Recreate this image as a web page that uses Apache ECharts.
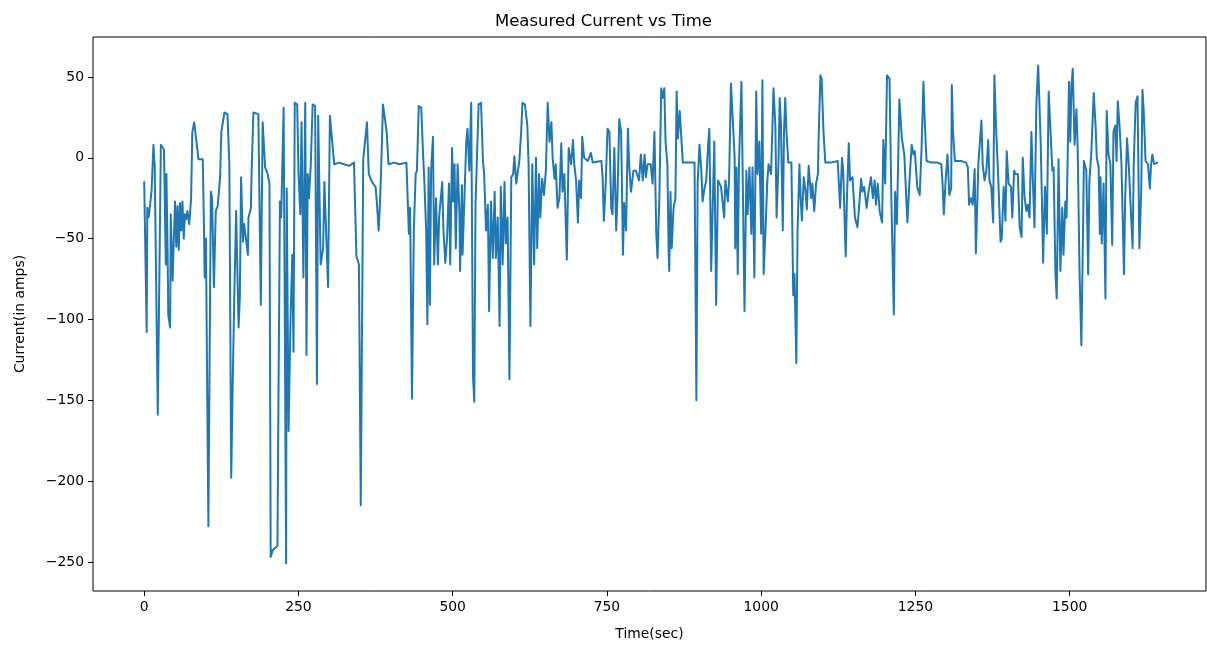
<!DOCTYPE html>
<html>
<head>
<meta charset="utf-8">
<title>Measured Current vs Time</title>
<script src="https://cdn.jsdelivr.net/npm/echarts@6/dist/echarts.min.js"></script>
<style>
  html, body { margin: 0; padding: 0; background: #fff; }
  #chart { width: 1207px; height: 646px; }
</style>
</head>
<body>
<div id="chart"></div>
<script>
// time axis (seconds) and the measured current (amps)
const timeSec = [
  0, 2, 4, 5, 7, 9, 12, 15, 17, 22,
  27, 30, 32, 35, 36, 38, 39, 42, 43, 46,
  48, 50, 52, 54, 56, 58, 60, 62, 64, 66,
  68, 70, 73, 76, 78, 81, 83, 88, 95, 97,
  98, 100, 104, 106, 108, 110, 113, 116, 119, 123,
  125, 130, 135, 138, 141, 143, 146, 149, 153, 155,
  157, 160, 162, 168, 169, 173, 174, 177, 185, 189,
  192, 196, 200, 203, 205, 208, 216, 217, 220, 222,
  226, 228, 230, 231, 234, 237, 240, 242, 244, 248,
  250, 253, 255, 258, 261, 263, 265, 267, 270, 273,
  277, 280, 282, 286, 290, 292, 295, 298, 301, 304,
  308, 316, 324, 332, 340, 342, 344, 348, 351, 355,
  358, 361, 364, 368, 371, 375, 377, 380, 382, 384,
  387, 390, 393, 396, 405, 414, 425, 427, 429, 431,
  434, 437, 440, 442, 445, 449, 452, 454, 457, 459,
  461, 463, 465, 468, 470, 473, 476, 478, 483, 485,
  488, 491, 494, 496, 499, 501, 503, 505, 508, 511,
  512, 515, 516, 519, 522, 524, 527, 530, 531, 533,
  535, 537, 539, 542, 546, 549, 551, 554, 557, 559,
  562, 565, 568, 570, 573, 576, 578, 581, 584, 586,
  589, 592, 595, 598, 600, 603, 605, 608, 611, 613,
  617, 621, 623, 626, 629, 632, 635, 637, 640, 642,
  645, 648, 651, 654, 657, 660, 662, 665, 667, 670,
  673, 676, 678, 681, 685, 688, 692, 695, 697, 700,
  703, 705, 708, 710, 713, 719, 724, 727, 741, 743,
  745, 748, 751, 754, 757, 759, 762, 765, 767, 770,
  773, 776, 778, 781, 784, 786, 789, 793, 797, 802,
  805, 808, 811, 813, 816, 821, 824, 827, 830, 832,
  835, 838, 840, 843, 845, 848, 850, 851, 853, 855,
  858, 861, 863, 865, 868, 870, 873, 881, 892, 895,
  897, 900, 903, 905, 908, 911, 914, 916, 919, 921,
  924, 927, 930, 935, 940, 942, 946, 948, 951, 954,
  957, 958, 960, 962, 964, 968, 970, 973, 976, 978,
  981, 984, 986, 989, 992, 994, 997, 1000, 1002, 1004,
  1007, 1010, 1012, 1014, 1016, 1020, 1023, 1025, 1028, 1030,
  1032, 1035, 1037, 1039, 1041, 1044, 1049, 1052, 1054, 1057,
  1059, 1062, 1064, 1066, 1069, 1072, 1074, 1077, 1081, 1083,
  1086, 1089, 1092, 1093, 1096, 1098, 1101, 1104, 1113, 1124,
  1128, 1131, 1133, 1137, 1139, 1142, 1144, 1148, 1152, 1156,
  1159, 1162, 1164, 1167, 1171, 1174, 1178, 1181, 1184, 1186,
  1189, 1192, 1196, 1198, 1201, 1204, 1208, 1211, 1215, 1217,
  1220, 1224, 1228, 1232, 1237, 1241, 1244, 1247, 1249, 1253,
  1257, 1260, 1263, 1265, 1268, 1276, 1286, 1292, 1294, 1296,
  1299, 1302, 1305, 1308, 1309, 1311, 1314, 1324, 1332, 1335,
  1337, 1340, 1343, 1346, 1348, 1352, 1354, 1357, 1359, 1362,
  1365, 1368, 1370, 1373, 1376, 1378, 1381, 1384, 1388, 1390,
  1393, 1396, 1398, 1401, 1405, 1407, 1410, 1412, 1416, 1419,
  1422, 1424, 1427, 1430, 1432, 1435, 1438, 1440, 1443, 1446,
  1449, 1450, 1453, 1455, 1457, 1460, 1463, 1466, 1469, 1472,
  1474, 1477, 1479, 1482, 1485, 1488, 1490, 1493, 1495, 1499,
  1501, 1503, 1505, 1508, 1511, 1513, 1516, 1519, 1522, 1523,
  1525, 1527, 1530, 1532, 1535, 1537, 1539, 1542, 1544, 1547,
  1549, 1550, 1552, 1555, 1558, 1560, 1563, 1566, 1569, 1571,
  1574, 1576, 1578, 1581, 1584, 1588, 1590, 1593, 1596, 1599,
  1602, 1604, 1607, 1610, 1613, 1616, 1618, 1620, 1623, 1627,
  1630, 1632, 1634, 1637, 1642
];
const currentAmps = [
  -15, -16, -108, -31, -37, -31, -20, 8, -5, -159,
  8, 7, 5, -66, -10, -60, -97, -105, -35, -76,
  -50, -27, -55, -30, -57, -28, -45, -27, -50, -35,
  -38, -33, -41, -25, 16, 22, 22, -1, -1, -47,
  -74, -50, -228, -228, -21, -25, -80, -33, -30, -12,
  16, 28, 27, -4, -198, -150, -86, -33, -105, -86,
  -12, -52, -41, -60, -37, -31, -10, 28, 27, -91,
  22, -6, -10, -16, -247, -243, -240, -181, -27, -37,
  31, 32, -251, -19, -169, -103, -60, -120, 34, 33,
  -9, -35, 22, -74, 34, -122, -10, -25, -4, 33,
  32, -140, 26, -66, -56, -15, -16, -80, 26, 27,
  -4, -3, -4, -5, -3, -4, -61, -66, -215, -1,
  0, 22, -10, -14, -16, -18, -27, -45, -29, -8,
  33, 32, 16, -4, -3, -4, -3, -25, -47, -31,
  -149, -45, -10, -8, 32, 31, 2, -14, -45, -103,
  -6, -91, -8, 13, -66, -25, -66, -37, -15, -45,
  -65, -49, -16, -66, 6, -27, -4, -56, -4, -35,
  -70, -17, -60, -25, 10, 18, -8, 34, 33, -136,
  -151, -29, -29, 33, 34, -2, -10, -45, -29, -95,
  -27, -62, -21, -62, -37, -104, -18, -66, -15, -53,
  -37, -137, -12, -10, 1, -16, -10, -2, 16, 34,
  33, 20, -4, -104, -4, -66, 0, -56, -10, -37,
  -13, -23, -8, 34, 10, 22, 0, -13, -4, -31,
  -25, 9, -21, -10, -63, 6, -4, 11, -4, -14,
  -40, -14, -25, 13, 0, -2, 3, -3, -2, -12,
  -39, -16, 18, 16, -31, -35, 6, -45, -25, 24,
  16, -60, -28, -45, 18, -4, -21, -8, -8, -14,
  2, -14, 2, -12, -4, -4, -16, 16, -47, -62,
  -25, 43, 37, 43, 10, -4, -58, -70, -21, -56,
  -31, -25, 41, 12, 29, 16, -3, -3, -3, -150,
  -16, 8, -8, -27, -19, -14, 8, 18, -70, -70,
  10, -91, -14, -18, -37, -14, -27, -14, 46, 45,
  0, -56, -6, -72, -4, 47, 47, -95, -8, -35,
  -6, -47, -6, -74, 41, -10, 10, -47, 48, -72,
  -45, -14, -4, -4, -10, 43, 20, -37, -4, 37,
  22, -45, 16, 37, 16, -3, -3, -85, -72, -127,
  -45, -4, -25, -39, -12, -21, -32, -5, -25, -16,
  -33, -16, -10, 10, 51, 49, 16, -3, -3, -2,
  -31, 0, -8, -61, -25, 9, -14, -12, -37, -43,
  -29, -13, -21, -18, -31, -21, -12, -25, -14, -29,
  -16, -33, -40, 11, -16, 51, 49, -25, -97, -21,
  -41, 36, 12, 2, -40, -10, 8, 2, 4, -18,
  -23, 6, 47, 24, -2, -3, -3, -4, -16, -35,
  -14, 2, -23, -19, 45, 16, -2, -2, -3, -6,
  -29, -25, -29, -7, -59, -4, -4, 23, -4, -14,
  -8, 11, -14, -18, -40, 51, 16, -10, -52, -50,
  -18, -39, 4, -16, -18, -37, -8, -10, -10, -43,
  -49, 0, -25, -33, -29, -37, 16, -10, -43, 33,
  57, 56, 10, -25, -65, -18, -47, 41, 16, -8,
  -6, -72, -87, -1, -70, -31, -60, -27, -37, 47,
  10, 45, 55, 8, 30, 6, -70, -116, -37, -2,
  -2, -8, -72, -14, 2, 3, 40, 20, 0, -6,
  -47, -12, -53, -16, -87, 29, 2, -4, -54, 16,
  20, -2, 35, 19, -4, -72, -25, 12, -6, -6,
  -56, -2, 34, 38, -56, -21, 42, 29, -2, -4,
  -19, -4, 2, -4, -3
];

// tick labels on each axis
const xTicks = [0, 250, 500, 750, 1000, 1250, 1500];
const yTicks = [-250, -200, -150, -100, -50, 0, 50];

if (timeSec.length !== currentAmps.length) {
  console.error('length mismatch', timeSec.length, currentAmps.length);
}

const points = timeSec.map((t, i) => [t, currentAmps[i]]);

// matplotlib prints negative numbers with a real minus sign
const fmt = v => String(v).replace('-', '\u2212');

const font = 'DejaVu Sans';
const chart = echarts.init(document.getElementById('chart'), null, { renderer: 'canvas' });

chart.setOption({
  animation: false,
  backgroundColor: '#fff',
  title: {
    text: 'Measured Current vs Time',
    left: 'center',
    top: 8,
    textStyle: { fontFamily: font, fontSize: 16.5, fontWeight: 'normal', color: '#000' }
  },
  grid: {
    left: 93,
    right: 1,
    top: 37,
    bottom: 54,
    show: true,
    borderColor: '#000',
    borderWidth: 1,
    backgroundColor: 'transparent'
  },
  xAxis: {
    type: 'value',
    min: -83,
    max: 1721,
    name: 'Time(sec)',
    nameLocation: 'middle',
    nameGap: 36,
    nameTextStyle: { fontFamily: font, fontSize: 13.9, color: '#000' },
    splitLine: { show: false },
    axisLine: { show: false, onZero: false },
    axisTick: {
      show: true, inside: false, length: 5,
      customValues: xTicks,
      lineStyle: { color: '#000', width: 1 }
    },
    axisLabel: {
      customValues: xTicks,
      margin: 9,
      fontFamily: font, fontSize: 13.9, color: '#000',
      formatter: fmt
    }
  },
  yAxis: {
    type: 'value',
    min: -268,
    max: 74.7,
    name: 'Current(in amps)',
    nameLocation: 'middle',
    nameGap: 66,
    nameRotate: 90,
    nameTextStyle: { fontFamily: font, fontSize: 13.9, color: '#000' },
    splitLine: { show: false },
    axisLine: { show: false, onZero: false },
    axisTick: {
      show: true, inside: false, length: 5,
      customValues: yTicks,
      lineStyle: { color: '#000', width: 1 }
    },
    axisLabel: {
      customValues: yTicks,
      margin: 9,
      fontFamily: font, fontSize: 13.9, color: '#000',
      formatter: fmt
    }
  },
  series: [{
    type: 'line',
    data: points,
    showSymbol: false,
    symbol: 'none',
    clip: true,
    lineStyle: { color: '#1f77b4', width: 2, join: 'round', cap: 'round' }
  }]
});
</script>
</body>
</html>
